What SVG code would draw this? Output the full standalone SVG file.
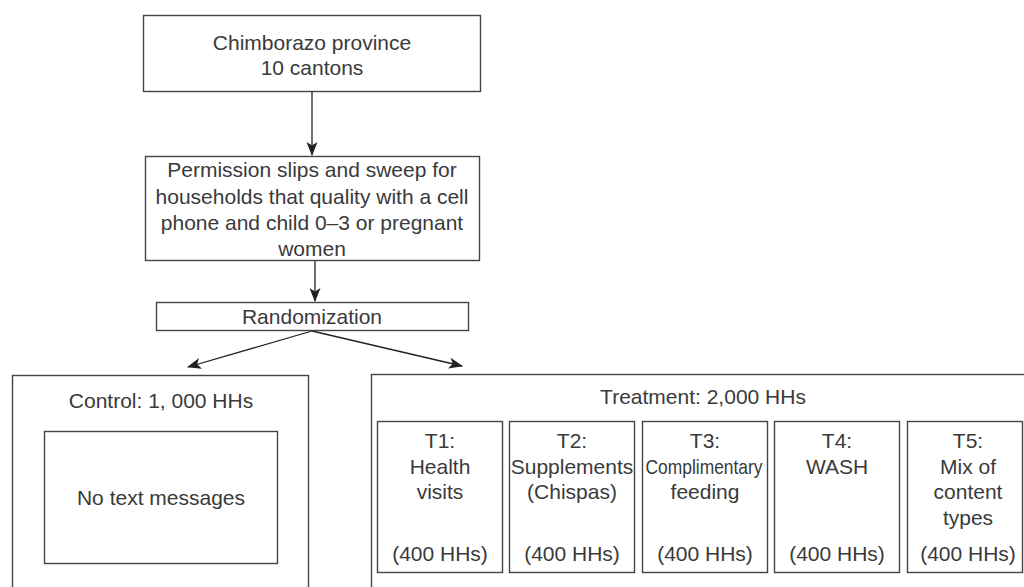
<svg xmlns="http://www.w3.org/2000/svg" width="1024" height="587" viewBox="0 0 1024 587">
<style>
.box{fill:#fff;stroke:#444;stroke-width:1.4}
.t{font-family:"Liberation Sans",Arial,sans-serif;font-size:21px;fill:#3a3a3a;text-anchor:middle}
.c{fill:none;stroke:#222;stroke-width:1.3}
</style>
<defs>
<marker id="ah" markerWidth="16" markerHeight="12" refX="13" refY="5.5" orient="auto" markerUnits="userSpaceOnUse">
<path d="M0,0 L14,5.5 L0,11 L3.5,5.5 Z" fill="#222"/>
</marker>
</defs>
<rect width="1024" height="587" fill="#fff"/>
<g id="connectors">
<line class="c" x1="312" y1="91" x2="312" y2="155" marker-end="url(#ah)"/>
<line class="c" x1="315" y1="261" x2="315" y2="301" marker-end="url(#ah)"/>
<line class="c" x1="312" y1="331" x2="188" y2="367" marker-end="url(#ah)"/>
<line class="c" x1="312" y1="331" x2="462" y2="366" marker-end="url(#ah)"/>
</g>
<g id="province">
<rect class="box" x="143.5" y="15.5" width="337" height="76"/>
<text class="t" x="312" y="50">Chimborazo province</text>
<text class="t" x="312" y="75">10 cantons</text>
</g>
<g id="permission">
<rect class="box" x="145.5" y="156.5" width="334" height="104"/>
<text class="t" x="312" y="177">Permission slips and sweep for</text>
<text class="t" x="312" y="204">households that quality with a cell</text>
<text class="t" x="312" y="230">phone and child 0–3 or pregnant</text>
<text class="t" x="312" y="256">women</text>
</g>
<g id="randomization">
<rect class="box" x="156.5" y="302.5" width="312" height="28"/>
<text class="t" x="312" y="324">Randomization</text>
</g>
<g id="control">
<rect class="box" x="12.5" y="375.5" width="296" height="230"/>
<text class="t" x="161" y="408">Control: 1, 000 HHs</text>
</g>
<g id="no-text">
<rect class="box" x="44.5" y="431.5" width="233" height="132"/>
<text class="t" x="161" y="505">No text messages</text>
</g>
<g id="treatment">
<rect class="box" x="371.5" y="374.5" width="670" height="230"/>
<text class="t" x="703" y="404">Treatment: 2,000 HHs</text>
</g>
<g id="t1">
<rect class="box" x="377.5" y="421.5" width="125" height="151"/>
<text class="t" x="440" y="448">T1:</text>
<text class="t" x="440" y="474">Health</text>
<text class="t" x="440" y="499">visits</text>
<text class="t" x="440" y="561">(400 HHs)</text>
</g>
<g id="t2">
<rect class="box" x="509.5" y="421.5" width="125" height="151"/>
<text class="t" x="572" y="448">T2:</text>
<text class="t" x="572" y="474">Supplements</text>
<text class="t" x="572" y="499">(Chispas)</text>
<text class="t" x="572" y="561">(400 HHs)</text>
</g>
<g id="t3">
<rect class="box" x="642.5" y="421.5" width="125" height="151"/>
<text class="t" x="705" y="448">T3:</text>
<text class="t" x="704" y="474" textLength="117" lengthAdjust="spacingAndGlyphs">Complimentary</text>
<text class="t" x="705" y="499">feeding</text>
<text class="t" x="705" y="561">(400 HHs)</text>
</g>
<g id="t4">
<rect class="box" x="774.5" y="421.5" width="125" height="151"/>
<text class="t" x="837" y="448">T4:</text>
<text class="t" x="837" y="474">WASH</text>
<text class="t" x="837" y="561">(400 HHs)</text>
</g>
<g id="t5">
<rect class="box" x="907.5" y="421.5" width="115" height="151"/>
<text class="t" x="968" y="448">T5:</text>
<text class="t" x="968" y="474">Mix of</text>
<text class="t" x="968" y="499">content</text>
<text class="t" x="968" y="525">types</text>
<text class="t" x="968" y="561">(400 HHs)</text>
</g>
</svg>
